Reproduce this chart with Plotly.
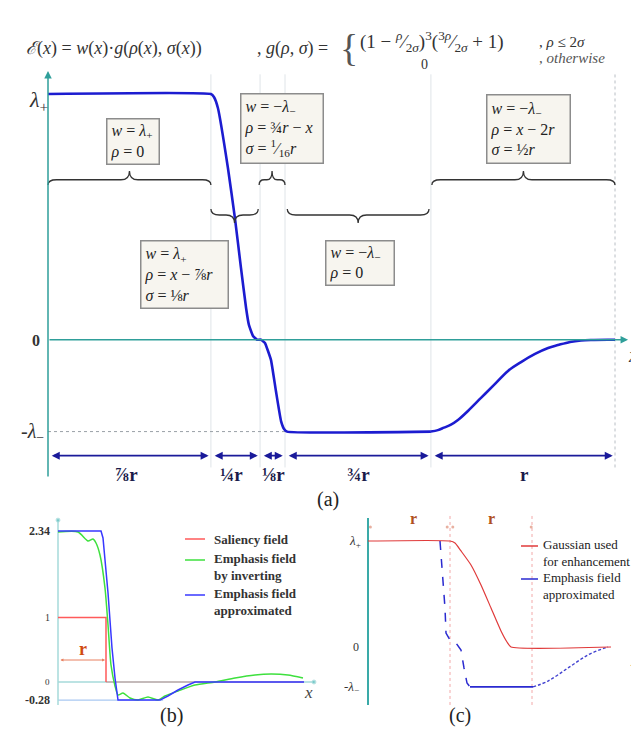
import plotly.graph_objects as go

W, H = 639, 731
SERIF = "Liberation Serif"

# ---------------- Panel (a): x in units of r, y in units of lambda_+ ----------------
a_bounds = [0.0, 0.862, 1.122, 1.254, 2.026, 3.0]
a_seg_labels = ["⅞r", "¼r", "⅛r", "¾r", "r"]
lam_plus = 1.0
lam_minus = -0.374
a_drop_x = [0.0, 0.862, 0.878, 0.899, 0.952, 0.989, 1.021, 1.048, 1.063, 1.085, 1.106,
            1.127, 1.148, 1.164, 1.180, 1.206, 1.233, 1.249, 1.265, 2.026]
a_drop_y = [1.0, 1.0, 0.988, 0.943, 0.699, 0.495, 0.292, 0.129, 0.060, 0.015, 0.0,
            0.0, -0.013, -0.046, -0.083, -0.209, -0.331, -0.363, -0.374, -0.374]
a_rise_x = [2.026, 2.063, 2.095, 2.132, 2.169, 2.222, 2.291, 2.360, 2.434, 2.503, 2.577,
            2.646, 2.698, 2.762, 2.820, 2.889, 2.963, 3.0]
a_rise_y = [-0.374, -0.368, -0.358, -0.346, -0.327, -0.290, -0.237, -0.184, -0.127, -0.091, -0.058,
            -0.034, -0.022, -0.009, -0.003, -0.001, 0.0, 0.0]

# ---------------- Panel (b): x in units of r ----------------
b_ticks = [2.34, 1, 0, -0.28]
b_tick_text = ["<b>2.34</b>", "1", "0", "<b>-0.28</b>"]
b_sal_x = [0.0, 1.0, 1.0]
b_sal_y = [1.0, 1.0, 0.0]
b_sal_tail_x = [1.0, 5.125]
b_sal_tail_y = [0.0, 0.0]
b_green_x = [0.0, 0.417, 0.625, 0.729, 0.792, 0.875, 0.979, 1.042, 1.104, 1.1875, 1.25, 1.354,
             1.5, 1.667, 1.875, 2.083, 2.229, 2.5, 2.854, 3.271, 3.6875, 4.104, 4.4375, 4.792, 5.104]
b_green_y = [2.326, 2.326, 2.186, 2.217, 2.155, 1.969, 1.457, 0.884, 0.264, -0.062, -0.202, -0.171,
             -0.248, -0.279, -0.233, -0.279, -0.217, -0.14, -0.047, 0.0, 0.062, 0.109, 0.124, 0.109, 0.062]
b_blue_x = [0.0, 0.896, 0.9375, 1.042, 1.125, 1.1875, 1.25, 2.125, 2.29, 2.5, 2.708, 2.854, 5.125]
b_blue_y = [2.34, 2.34, 2.233, 1.38, 0.527, 0.062, -0.28, -0.28, -0.217, -0.124, -0.047, 0.0, 0.0]
b_legend = ["Saliency field", "Emphasis field<br>by inverting", "Emphasis field<br>approximated"]

# ---------------- Panel (c): x in units of r, y in units of lambda_+ ----------------
c_gauss_x = [0.0, 1.025, 1.0875, 1.1625, 1.2875, 1.4125, 1.5375, 1.6625, 1.7375, 1.7875, 3.0375]
c_gauss_y = [1.0, 1.0, 0.981, 0.906, 0.774, 0.585, 0.368, 0.151, 0.047, 0.0, 0.0]
c_drop_x = [0.9, 0.9375, 0.9625, 0.975, 1.025, 1.1, 1.1625, 1.2, 1.2375, 1.275]
c_drop_y = [1.0, 0.651, 0.368, 0.132, 0.066, 0.038, -0.028, -0.198, -0.34, -0.377]
c_flat_x = [1.275, 2.0625]
c_flat_y = [-0.377, -0.377]
c_rise_x = [2.0625, 2.25, 2.5, 2.75, 2.9625, 3.0]
c_rise_y = [-0.377, -0.321, -0.198, -0.075, -0.009, 0.0]
c_marks = [1.025, 2.05]
c_legend = ["Gaussian used<br>for enhancement", "Emphasis field<br>approximated"]


def P(x):
    return x / W


def Q(y):
    return 1 - y / H


fig = go.Figure()
TEAL = "#2f9f9a"
NAVY = "#1a1a9a"

# ---- panel a traces
fig.add_trace(go.Scatter(x=[a_bounds[0], a_bounds[3]], y=[lam_minus, lam_minus], mode="lines",
                         line=dict(color="#9aa0a6", width=1, dash="dot"), xaxis="x", yaxis="y",
                         hoverinfo="skip"))
fig.add_trace(go.Scatter(x=a_drop_x, y=a_drop_y, mode="lines",
                         line=dict(color="#1c1cd0", width=2.6, shape="spline", smoothing=0.4),
                         xaxis="x", yaxis="y"))
fig.add_trace(go.Scatter(x=a_rise_x, y=a_rise_y, mode="lines",
                         line=dict(color="#1c1cd0", width=2.6, shape="spline", smoothing=1.0),
                         xaxis="x", yaxis="y"))

# ---- panel b traces
fig.add_trace(go.Scatter(x=[0, 2.19], y=[b_ticks[3], b_ticks[3]], mode="lines",
                         line=dict(color="#a9c8f2", width=1.2), xaxis="x2", yaxis="y2"))
fig.add_trace(go.Scatter(x=[0, 5.333], y=[0, 0], mode="lines+markers",
                         line=dict(color="#a6dada", width=1.5),
                         marker=dict(size=[0, 4], color="#5cc0c0"), xaxis="x2", yaxis="y2"))
fig.add_trace(go.Scatter(x=[0, 0], y=[-0.357, 2.51], mode="lines+markers",
                         line=dict(color="#a6dada", width=1.5),
                         marker=dict(size=[0, 4], color="#5cc0c0"), xaxis="x2", yaxis="y2"))
fig.add_trace(go.Scatter(x=b_sal_tail_x, y=b_sal_tail_y, mode="lines",
                         line=dict(color="#d08080", width=1.5), opacity=0.55, xaxis="x2", yaxis="y2"))
fig.add_trace(go.Scatter(x=b_sal_x, y=b_sal_y, mode="lines",
                         line=dict(color="#ff5a5a", width=1.5), xaxis="x2", yaxis="y2"))
fig.add_trace(go.Scatter(x=b_green_x, y=b_green_y, mode="lines",
                         line=dict(color="#3ee03e", width=1.5, shape="spline", smoothing=0.6),
                         xaxis="x2", yaxis="y2"))
fig.add_trace(go.Scatter(x=b_blue_x, y=b_blue_y, mode="lines",
                         line=dict(color="#3838ff", width=1.5), xaxis="x2", yaxis="y2"))

# ---- panel c traces
for xm in c_marks:
    fig.add_trace(go.Scatter(x=[xm, xm], y=[-0.547, 1.245], mode="lines",
                             line=dict(color="#f2a8a8", width=1, dash="dot"), xaxis="x3", yaxis="y3"))
fig.add_trace(go.Scatter(x=[0, 0], y=[-0.547, 1.217], mode="lines",
                         line=dict(color="#3aaaa8", width=2), xaxis="x3", yaxis="y3"))
fig.add_trace(go.Scatter(x=c_drop_x, y=c_drop_y, mode="lines",
                         line=dict(color="#2a2ad0", width=1.5, dash="dash"), xaxis="x3", yaxis="y3"))
fig.add_trace(go.Scatter(x=c_flat_x, y=c_flat_y, mode="lines",
                         line=dict(color="#2a2ad0", width=1.8), xaxis="x3", yaxis="y3"))
fig.add_trace(go.Scatter(x=c_rise_x, y=c_rise_y, mode="lines",
                         line=dict(color="#4040d0", width=1.4, dash="3px,2px", shape="spline"),
                         xaxis="x3", yaxis="y3"))
fig.add_trace(go.Scatter(x=c_gauss_x, y=c_gauss_y, mode="lines",
                         line=dict(color="#e03a3a", width=1.2, shape="spline", smoothing=0.5),
                         xaxis="x3", yaxis="y3"))
fig.add_trace(go.Scatter(x=[0.03, 0.99, 1.06, 2.04], y=[1.132] * 4, mode="markers",
                         marker=dict(size=3, color="#e8b0a0"), xaxis="x3", yaxis="y3"))

shapes = []
# vertical light guide lines in panel a
for i, xb in enumerate(a_bounds[1:]):
    shapes.append(dict(type="line", xref="x", yref="y", x0=xb, x1=xb, y0=-0.52, y1=1.08,
                       line=dict(color="#dfe4e8" if i < 4 else "#b8bec4", width=1,
                                 dash="solid" if i < 4 else "dot"), layer="below"))


def brace(x0, x1, yl, ye, yt, h):
    xm = (x0 + x1) / 2
    return (f"M {x0},{ye} Q {x0},{yl} {x0 + h},{yl} L {xm - h},{yl} Q {xm},{yl} {xm},{yt} "
            f"Q {xm},{yl} {xm + h},{yl} L {x1 - h},{yl} Q {x1},{yl} {x1},{ye}")


UP = (0.651, 0.630, 0.687)
DOWN = (0.5075, 0.532, 0.475)
brace_spans = [(a_bounds[0], a_bounds[1], UP), (a_bounds[1], a_bounds[2] - 0.01, DOWN),
               (a_bounds[2] - 0.005, a_bounds[3], UP), (a_bounds[3] + 0.012, a_bounds[4] - 0.01, DOWN),
               (a_bounds[4] + 0.005, a_bounds[5], UP)]
for x0, x1, (yl, ye, yt) in brace_spans:
    h = min(0.045, (x1 - x0) / 5)
    shapes.append(dict(type="path", xref="x", yref="y", path=brace(x0, x1, yl, ye, yt, h),
                       line=dict(color="#333333", width=1.3)))

# legend samples panel b
b_leg_y = [531, 552, 587]
b_leg_col = ["#ff5a5a", "#3ee03e", "#3838ff"]
for yy, cc in zip(b_leg_y, b_leg_col):
    shapes.append(dict(type="line", xref="paper", yref="paper", x0=P(177), x1=P(197), y0=Q(yy), y1=Q(yy),
                       line=dict(color=cc, width=1.5)))
c_leg_y = [538, 571]
c_leg_col = ["#e03a3a", "#2a2ad0"]
for yy, cc in zip(c_leg_y, c_leg_col):
    shapes.append(dict(type="line", xref="paper", yref="paper", x0=P(513), x1=P(530), y0=Q(yy), y1=Q(yy),
                       line=dict(color=cc, width=1.5)))

ann = []


def txt(x, y, text, size=15, color="#222222", xanchor="left", yanchor="middle", **kw):
    d = dict(x=P(x), y=Q(y), xref="paper", yref="paper", text=text, showarrow=False,
             font=dict(family=SERIF, size=size, color=color), xanchor=xanchor, yanchor=yanchor)
    d.update(kw)
    ann.append(d)


def arrow(x0, x1, y, xr, yr, color, width=1.6, both=True, head=2, size=1.0):
    ann.append(dict(x=x1, y=y, ax=x0, ay=y, xref=xr, yref=yr, axref=xr, ayref=yr, text="",
                    showarrow=True, arrowhead=head, startarrowhead=head, arrowsize=size,
                    startarrowsize=size, arrowwidth=width, arrowcolor=color,
                    arrowside="end+start" if both else "end", standoff=0, startstandoff=0))


def arrow_v(x, y0, y1, xr, yr, color, width=1.5):
    ann.append(dict(x=x, y=y1, ax=x, ay=y0, xref=xr, yref=yr, axref=xr, ayref=yr, text="",
                    showarrow=True, arrowhead=2, arrowsize=1, arrowwidth=width, arrowcolor=color,
                    standoff=0))


# axes of panel a with arrows
arrow(0, 3.069, 0, "x", "y", TEAL, width=1.5, both=False)
arrow_v(0, -0.563, 1.094, "x", "y", TEAL, width=1.5)

# dimension arrows
gap = 0.012
for i in range(5):
    arrow(a_bounds[i] + gap, a_bounds[i + 1] - gap, -0.472, "x", "y", NAVY, width=1.6, head=2, size=1.0)

# formula row
txt(16, 40, "<i>ℰ</i>(<i>x</i>) = <i>w</i>(<i>x</i>)·<i>g</i>(<i>ρ</i>(<i>x</i>), <i>σ</i>(<i>x</i>))",
    size=18, color="#333333")
txt(247, 40, ", <i>g</i>(<i>ρ</i>, <i>σ</i>) =", size=18, color="#333333")
txt(330, 40, "{", size=38, color="#555555")
txt(350, 34, "(1 − <sup><i>ρ</i></sup>⁄<sub>2<i>σ</i></sub>)<sup>3</sup>(<sup>3<i>ρ</i></sup>⁄<sub>2<i>σ</i></sub> + 1)",
    size=19, color="#333333")
txt(416, 56, "0", size=14, color="#333333", xanchor="center")
txt(529, 34, ", <i>ρ</i> ≤ 2<i>σ</i>", size=15, color="#333333")
txt(529, 50, ", <i>otherwise</i>", size=15, color="#555555")

# boxes
boxes = [
    (98, 110, 54, 47, "<i>w</i> = <i>λ</i><sub>+</sub><br><i>ρ</i> = 0"),
    (232, 85, 84, 71, "<i>w</i> = −<i>λ</i><sub>−</sub><br><i>ρ</i> = ¾<i>r</i> − <i>x</i><br>"
                      "<i>σ</i> = <sup>1</sup>⁄<sub>16</sub><i>r</i>"),
    (132, 232, 89, 69, "<i>w</i> = <i>λ</i><sub>+</sub><br><i>ρ</i> = <i>x</i> − ⅞<i>r</i><br>"
                       "<i>σ</i> = ⅛<i>r</i>"),
    (317, 232, 70, 46, "<i>w</i> = −<i>λ</i><sub>−</sub><br><i>ρ</i> = 0"),
    (478, 86, 85, 70, "<i>w</i> = −<i>λ</i><sub>−</sub><br><i>ρ</i> = <i>x</i> − 2<i>r</i><br>"
                      "<i>σ</i> = ½<i>r</i>"),
]
for bx, by, bw, bh, t in boxes:
    txt(bx, by, t, size=16, xanchor="left", yanchor="top", align="left", valign="middle",
        bgcolor="#f7f5ef", bordercolor="#8c8c8c", borderwidth=1.5, borderpad=3,
        width=bw - 9, height=bh - 9)

# tick labels panel a
txt(30, 93, "<i>λ</i><sub>+</sub>", size=22, color="#333333", xanchor="center")
txt(28, 332, "<b>0</b>", size=16, color="#333333", xanchor="center")
txt(24, 424, "-<i>λ</i><sub>−</sub>", size=20, color="#333333", xanchor="center")
txt(632, 347, "<i>x</i>", size=20, color="#333333", xanchor="right")

# segment labels
seg_centers = [118, 223, 265, 350, 516]
for cx, lab in zip(seg_centers, a_seg_labels):
    txt(cx, 466, "<b>" + lab + "</b>", size=19, color="#1b1b4a", xanchor="center")
txt(320, 491, "(a)", size=20, color="#222222", xanchor="center")

# panel b labels
b_tick_py = [523, 609, 674, 692]
b_tick_sz = [12, 10, 9, 12]
for yy, t, s in zip(b_tick_py, b_tick_text, b_tick_sz):
    txt(44, yy, t, size=s, color="#333333", xanchor="right")
txt(300, 684, "<i>x</i>", size=17, color="#444444", xanchor="center")
arrow(0.02, 0.98, 0.341, "x2", "y2", "#e88060", width=1.0, head=2, size=0.6)
txt(75, 641, "<b>r</b>", size=18, color="#d04a10", xanchor="center")
b_leg_ty = [531, 559, 594]
for yy, t in zip(b_leg_ty, b_legend):
    txt(204, yy, "<b>" + t + "</b>", size=13, color="#333333", align="left")
txt(163, 707, "(b)", size=20, color="#222222", xanchor="center")

# panel c labels
txt(347, 533, "<i>λ</i><sub>+</sub>", size=13, color="#333333", xanchor="center")
txt(348, 639, "0", size=12, color="#333333", xanchor="center")
txt(343, 679, "-<i>λ</i><sub>−</sub>", size=13, color="#333333", xanchor="center")
txt(632, 652, "<i>x</i>", size=16, color="#444444", xanchor="right")
txt(405, 511, "<b>r</b>", size=16, color="#b05020", xanchor="center")
txt(483, 511, "<b>r</b>", size=16, color="#b05020", xanchor="center")
c_leg_ty = [545, 578]
for yy, t in zip(c_leg_ty, c_legend):
    txt(533, yy, t, size=13, color="#222222", align="left")
txt(452, 707, "(c)", size=20, color="#222222", xanchor="center")

hidden = dict(visible=False, fixedrange=True)
fig.update_layout(
    width=W, height=H, margin=dict(l=0, r=0, t=0, b=0),
    paper_bgcolor="white", plot_bgcolor="white", showlegend=False,
    font=dict(family=SERIF),
    xaxis=dict(domain=[0, 1], range=[-40 / 189, 599 / 189], anchor="y", **hidden),
    yaxis=dict(domain=[1 - 500 / H, 1], range=[(331.7 - 500) / 245.7, 331.7 / 245.7], anchor="x", **hidden),
    xaxis2=dict(domain=[0, 320 / W], range=[-50 / 48, 270 / 48], anchor="y2", **hidden),
    yaxis2=dict(domain=[0, 231 / H], range=[(674 - 731) / 64.5, (674 - 500) / 64.5], anchor="x2", **hidden),
    xaxis3=dict(domain=[320 / W, 1], range=[-0.5, 3.4875], anchor="y3", **hidden),
    yaxis3=dict(domain=[0, 231 / H], range=[(639 - 731) / 106, (639 - 500) / 106], anchor="x3", **hidden),
    shapes=shapes, annotations=ann,
)

fig.write_html("out.html")
